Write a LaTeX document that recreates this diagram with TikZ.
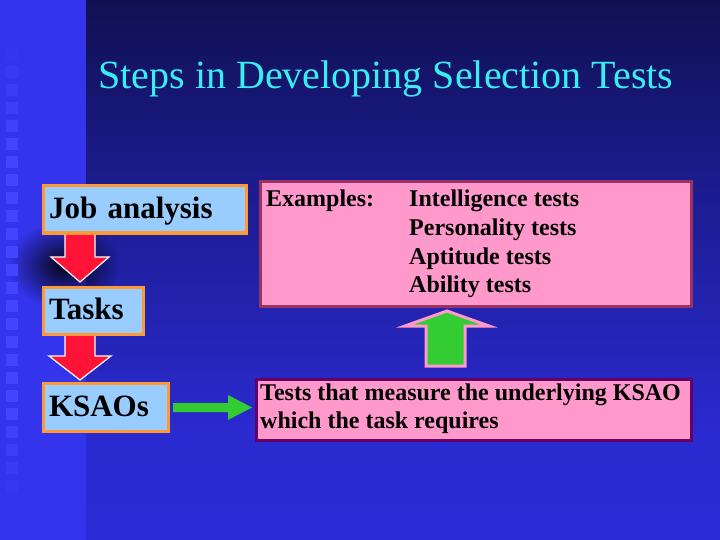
\documentclass[tikz,border=0pt]{standalone}
\usepackage{fontspec}
\setmainfont{Liberation Serif}
\usetikzlibrary{fadings}
\tikzfading[name=glowfade, inner color=transparent!0, outer color=transparent!100]
\definecolor{strip}{HTML}{3434EC}
\definecolor{sqc}{HTML}{4444FF}
\definecolor{ptop}{HTML}{07072A}
\definecolor{ptopb}{HTML}{0D0D40}
\definecolor{pmid}{HTML}{1A1A88}
\definecolor{pmidb}{HTML}{2A2AD0}
\definecolor{pbot}{HTML}{3232E8}
\definecolor{titlec}{HTML}{38EEF0}
\definecolor{boxfill}{HTML}{99CCFF}
\definecolor{boxline}{HTML}{FF9933}
\definecolor{pinkf}{HTML}{FF99CC}
\definecolor{exline}{HTML}{993366}
\definecolor{tbline}{HTML}{660066}
\definecolor{redA}{HTML}{FF1438}
\definecolor{greenA}{HTML}{33CC33}
\pgfdeclareverticalshading{panelshade}{100bp}{color(0bp)=(pbot); color(35bp)=(pmidb); color(60bp)=(pmid); color(80bp)=(ptopb); color(100bp)=(ptop)}
\tikzset{
  stepbox/.style={draw=boxline, fill=boxfill, line width=3pt, rectangle, anchor=north west,
    inner xsep=6pt, inner ysep=0pt, align=left, text height=22pt, text depth=4pt,
    font=\fontsize{31}{34}\selectfont\bfseries},
  pinkbox/.style={fill=pinkf, line width=3pt, rectangle, anchor=north west},
  ptext/.style={anchor=base west, inner sep=0pt, font=\fontsize{24}{28}\selectfont\bfseries},
  redarrow/.style={fill=redA, draw=white, line width=1.2pt, line join=miter},
  greenarrow/.style={fill=greenA},
}
\begin{document}
\begin{tikzpicture}[x=1pt,y=-1pt]
\useasboundingbox (0,0) rectangle (720,540);
\fill[strip] (0,0) rectangle (720,540);
\shade[shading=panelshade] (86,0) rectangle (720,540);
\fill[black, path fading=glowfade, opacity=0.9] (64,265) ellipse [x radius=56, y radius=44];
\foreach \i in {0,...,24} {
  \pgfmathsetmacro\op{min(1,(\i+1)/6,(25-\i)/5)}
  \fill[sqc, opacity=\op] (6,{48+18*\i}) rectangle (18,{60+18*\i});
}
% title
\node[anchor=base, text=titlec, font=\fontsize{40}{46}\selectfont, inner sep=0pt] (title) at (386,89) {Steps in Developing Selection Tests};
% red arrows
\fill[redarrow] (65,232) -- (95,232) -- (95,257) -- (109,257) -- (80,282) -- (51,257) -- (65,257) -- cycle;
\fill[redarrow] (65,333) -- (95,333) -- (95,356) -- (111,356) -- (80,380) -- (49,356) -- (65,356) -- cycle;
% left boxes
\node[stepbox, minimum width=203pt, minimum height=47pt, text width=191pt] (job) at (41.5,184.5) {Job analysis};
\node[stepbox, minimum width=100pt, minimum height=47pt, text width=88pt] (tasks) at (41.5,285.5) {Tasks};
\node[stepbox, minimum width=125pt, minimum height=48pt, text width=113pt] (ksao) at (41.5,381.5) {KSAOs};
% examples box
\node[pinkbox, draw=exline, minimum width=431pt, minimum height=124pt] (ex) at (258.5,180.5) {};
\node[ptext] (exlab) at (266,207) {Examples:};
\node[ptext] (it1) at (409,207) {Intelligence tests};
\node[ptext] (it2) at (409,235.5) {Personality tests};
\node[ptext] (it3) at (409,264) {Aptitude tests};
\node[ptext] (it4) at (409,292.5) {Ability tests};
% bottom box
\node[pinkbox, draw=tbline, minimum width=435pt, minimum height=61pt] (tb) at (254.5,377.5) {};
\node[ptext] (tb1) at (260,400) {Tests that measure the underlying KSAO};
\node[ptext] (tb2) at (260,428) {which the task requires};
% green arrows
\fill[greenarrow] (173,403) -- (228,403) -- (228,395) -- (252,407.5) -- (228,420) -- (228,412) -- (173,412) -- cycle;
\filldraw[greenarrow, draw=pinkf, line width=3pt, line join=miter] (426,366) -- (426,326) -- (405,326) -- (447,311) -- (489,326) -- (465,326) -- (465,366) -- cycle;
\end{tikzpicture}
\end{document}
